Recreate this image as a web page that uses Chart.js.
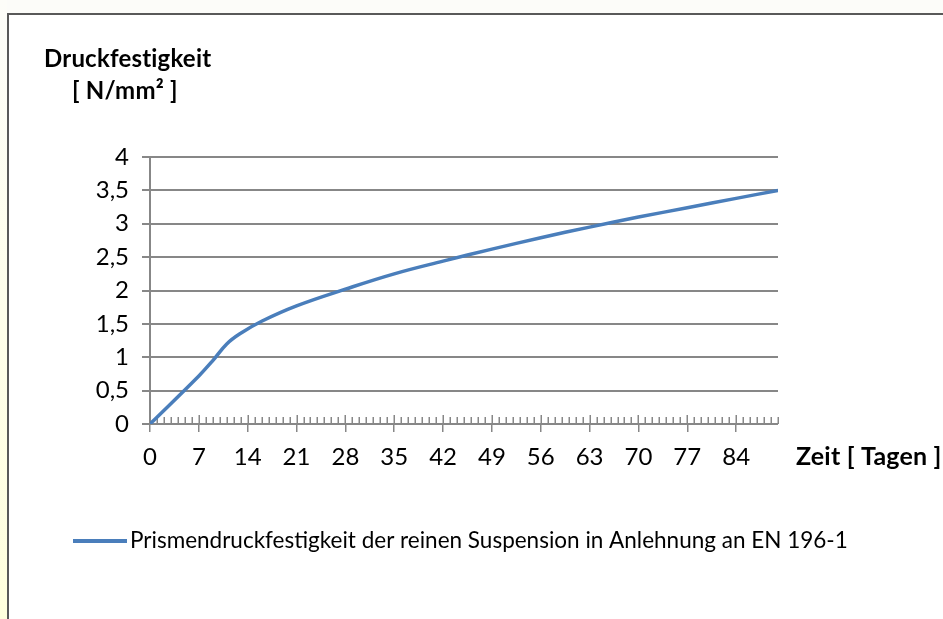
<!DOCTYPE html>
<html>
<head>
<meta charset="utf-8">
<script src="https://cdn.jsdelivr.net/npm/chart.js@4"></script>
<style>
  html, body { margin: 0; padding: 0; background: #fff; }
  #wrap { position: relative; width: 943px; height: 619px; }
</style>
</head>
<body>
<div id="wrap"><canvas id="chart" width="943" height="619"></canvas></div>
<script>
// Data
const days = [0, 7, 9, 11, 13, 16, 21, 28, 35, 42, 49, 56, 63, 70, 77, 84, 90];
const strength = [0, 0.72, 0.95, 1.2, 1.36, 1.54, 1.77, 2.02, 2.25, 2.44, 2.62, 2.79, 2.95, 3.1, 3.24, 3.38, 3.5];
const xTickValues = [0, 7, 14, 21, 28, 35, 42, 49, 56, 63, 70, 77, 84];
const yTickLabels = ['0', '0,5', '1', '1,5', '2', '2,5', '3', '3,5', '4'];
const seriesLabel = 'Prismendruckfestigkeit der reinen Suspension in Anlehnung an EN 196-1';

const colors = {
  line: '#4A7EBB',
  grid: '#878787',
  frame: '#595959',
  text: '#000000'
};
const fontFamily = "Lato, 'Open Sans', sans-serif";

// frame, titles, minor ticks and legend, drawn around the chart
const decorPlugin = {
  id: 'decor',
  beforeDraw(chart) {
    const ctx = chart.ctx;
    ctx.save();
    ctx.fillStyle = '#ffffff';
    ctx.fillRect(0, 0, chart.width, chart.height);
    const g = ctx.createLinearGradient(0, 0, 0, chart.height);
    g.addColorStop(0, '#fdfdf9');
    g.addColorStop(1, '#ffffdd');
    ctx.fillStyle = g;
    ctx.fillRect(0, 0, 7, chart.height);
    ctx.fillStyle = '#fcfcf9';
    ctx.fillRect(7, 0, chart.width, 13);
    ctx.strokeStyle = colors.frame;
    ctx.lineWidth = 2;
    ctx.beginPath();
    ctx.moveTo(7, 14); ctx.lineTo(chart.width, 14);
    ctx.moveTo(8, 13); ctx.lineTo(8, chart.height);
    ctx.stroke();
    ctx.restore();
  },
  beforeDatasetsDraw(chart) {
    const ctx = chart.ctx;
    const x = chart.scales.x;
    const y0 = chart.scales.y.getPixelForValue(0);
    ctx.save();
    ctx.strokeStyle = colors.grid;
    ctx.lineWidth = 1.5;
    ctx.beginPath();
    for (let d = 0; d <= 90; d++) {
      const px = Math.round(x.getPixelForValue(d)) + 0.25;
      const up = xTickValues.includes(d) ? 9 : 7;
      ctx.moveTo(px, y0 - up);
      ctx.lineTo(px, y0);
    }
    ctx.stroke();
    ctx.restore();
  },
  afterDraw(chart) {
    const ctx = chart.ctx;
    ctx.save();
    ctx.fillStyle = colors.text;
    ctx.textBaseline = 'alphabetic';
    ctx.textAlign = 'left';
    ctx.letterSpacing = '0.2px';
    ctx.font = 'bold 24px ' + fontFamily;
    ctx.fillText('Druckfestigkeit', 44, 67);
    ctx.fillText('[ N/mm² ]', 72, 99);
    ctx.font = 'bold 25px ' + fontFamily;
    ctx.fillText('Zeit [ Tagen ]', 796, 465);

    // legend
    ctx.strokeStyle = colors.line;
    ctx.lineWidth = 4;
    ctx.beginPath();
    ctx.moveTo(73, 541);
    ctx.lineTo(127, 541);
    ctx.stroke();
    ctx.letterSpacing = '0px';
    ctx.textBaseline = 'middle';
    ctx.font = '22.5px ' + fontFamily;
    ctx.fillText(seriesLabel, 130, 541);
    ctx.restore();
  }
};

new Chart(document.getElementById('chart'), {
  type: 'line',
  data: {
    datasets: [{
      label: seriesLabel,
      data: days.map((d, i) => ({ x: d, y: strength[i] })),
      borderColor: colors.line,
      backgroundColor: colors.line,
      borderWidth: 3.5,
      pointRadius: 0,
      tension: 0.4,
      fill: false
    }]
  },
  options: {
    responsive: false,
    animation: false,
    layout: {
      padding: { left: 90, right: 165, top: 157, bottom: 135 }
    },
    plugins: {
      legend: { display: false },
      tooltip: { enabled: false }
    },
    scales: {
      x: {
        type: 'linear',
        min: 0,
        max: 90,
        afterBuildTicks: (scale) => {
          scale.ticks = xTickValues.map(v => ({ value: v }));
        },
        afterFit: (scale) => { scale.height = 60; },
        grid: {
          drawOnChartArea: false,
          drawTicks: true,
          tickLength: 8,
          color: colors.grid,
          lineWidth: 1.5
        },
        border: { display: false },
        ticks: {
          color: colors.text,
          font: { family: fontFamily, size: 24 },
          padding: 11,
          maxRotation: 0,
          autoSkip: false
        }
      },
      y: {
        min: 0,
        max: 4,
        afterFit: (scale) => { scale.width = 60; },
        ticks: {
          stepSize: 0.5,
          color: colors.text,
          font: { family: fontFamily, size: 24 },
          padding: 13,
          callback: (value, index) => yTickLabels[index]
        },
        grid: {
          color: colors.grid,
          lineWidth: 2,
          tickLength: 8
        },
        border: { display: true, color: colors.grid, width: 2 }
      }
    }
  },
  plugins: [decorPlugin]
});
</script>
</body>
</html>
